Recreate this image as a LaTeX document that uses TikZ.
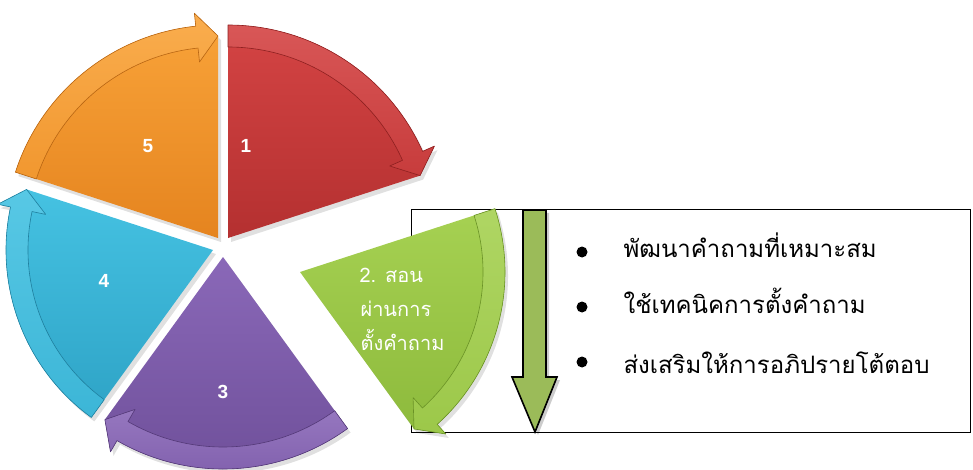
\documentclass[tikz,border=0pt]{standalone}
\usepackage{fontspec}
\setmainfont{Liberation Sans}
\newfontfamily\thaifont[Script=Thai]{Loma}
\definecolor{redL}{HTML}{D44444}
\definecolor{redD}{HTML}{B43030}
\definecolor{redE}{HTML}{8E2020}
\definecolor{oraL}{HTML}{F9A43A}
\definecolor{oraD}{HTML}{E5841F}
\definecolor{oraE}{HTML}{B86512}
\definecolor{bluL}{HTML}{45C2E2}
\definecolor{bluD}{HTML}{2EA3C6}
\definecolor{bluE}{HTML}{1F7F9E}
\definecolor{purL}{HTML}{8A68B8}
\definecolor{purD}{HTML}{6E4F99}
\definecolor{purE}{HTML}{533877}
\definecolor{grnL}{HTML}{A6D152}
\definecolor{grnD}{HTML}{8DBA3C}
\definecolor{grnE}{HTML}{6A9226}
\definecolor{arrowgreen}{HTML}{9BBB59}
\tikzset{
  seglabel/.style={text=white, font=\bfseries\fontsize{19}{21}\selectfont},
  thailabel/.style={text=white, anchor=base west, font=\thaifont\fontsize{20}{24}\selectfont},
  itemtext/.style={anchor=base west, font=\thaifont\fontsize{24}{28}\selectfont},
  bulletdot/.style={circle, fill=black, inner sep=0pt, minimum size=11pt},
}
% #1 apex x, #2 apex y (image px), #3 start angle, #4 end angle, #5 radius, #6 light, #7 dark, #8 edge
\newcommand\pieseg[8]{%
  \begin{scope}[shift={(#1,-#2)}]
    \pgfmathsetmacro\hbase{#4+6}
    \pgfmathsetmacro\Rout{#5+13}
    \pgfmathsetmacro\Rtip{#5-11}
    \pgfmathsetmacro\Rin{#5-22}
    \pgfmathsetmacro\Rbarb{#5-36}
    \fill[black, opacity=0.12, shift={(3,-4)}] (0,0) -- (#3:#5)
      arc[start angle=#3, end angle=\hbase, radius=#5] -- (\hbase:\Rout) -- (#4:\Rtip) -- cycle;
    \shade[top color=#6, bottom color=#7] (0,0) -- (#3:#5)
      arc[start angle=#3, end angle=\hbase, radius=#5] -- (\hbase:\Rout) -- (#4:\Rtip) -- cycle;
    \shade[top color=#6!90!white, bottom color=#6!60!#7, draw=#8, line width=0.6pt, line join=round]
      (#3:#5) arc[start angle=#3, end angle=\hbase, radius=#5] -- (\hbase:\Rout) -- (#4:\Rtip)
      -- (\hbase:\Rbarb) -- (\hbase:\Rin) arc[start angle=\hbase, end angle=#3, radius=\Rin] -- cycle;
  \end{scope}}
\begin{document}
\begin{tikzpicture}[x=1pt, y=1pt]
  \useasboundingbox (0,0) rectangle (973,-470);
  % text box
  \draw[line width=1pt] (411,-210) rectangle (970,-432);
  % vertical arrow
  \fill[black, opacity=0.2, shift={(3,-3)}] (523,-210) -- (546,-210) -- (546,-377) -- (557,-377)
    -- (535,-432) -- (512,-377) -- (523,-377) -- cycle;
  \draw[fill=arrowgreen, line width=1.6pt, line join=miter] (523,-210) -- (546,-210) -- (546,-377) -- (557,-377)
    -- (535,-432) -- (512,-377) -- (523,-377) -- cycle;
  % pie segments
  \pieseg{228}{238}{90}{18}{213}{redL}{redD}{redE}
  \pieseg{218}{238}{162}{90}{213}{oraL}{oraD}{oraE}
  \pieseg{213}{250}{234}{162}{207}{bluL}{bluD}{bluE}
  \pieseg{223}{257}{306}{234}{212}{purL}{purD}{purE}
  \pieseg{300}{272}{18}{-54}{205}{grnL}{grnD}{grnE}
  % labels
  \node[seglabel] (l1) at (246,-146) {1};
  \node[seglabel] (l5) at (148,-146) {5};
  \node[seglabel] (l4) at (104,-281) {4};
  \node[seglabel] (l3) at (223,-392) {3};
  \node[thailabel] (g1) at (356,-282) {2. สอน};
  \node[thailabel] (g2) at (357,-316) {ผ่านการ};
  \node[thailabel] (g3) at (357,-350) {ตั้งคำถาม};
  % bullets
  \node[bulletdot] (b1) at (582,-252) {};
  \node[bulletdot] (b2) at (582,-307) {};
  \node[bulletdot] (b3) at (582,-362) {};
  \node[itemtext] (t1) at (620,-257) {พัฒนาคำถามที่เหมาะสม};
  \node[itemtext] (t2) at (620,-313) {ใช้เทคนิคการตั้งคำถาม};
  \node[itemtext] (t3) at (620,-373) {ส่งเสริมให้การอภิปรายโต้ตอบ};
\end{tikzpicture}
\end{document}
